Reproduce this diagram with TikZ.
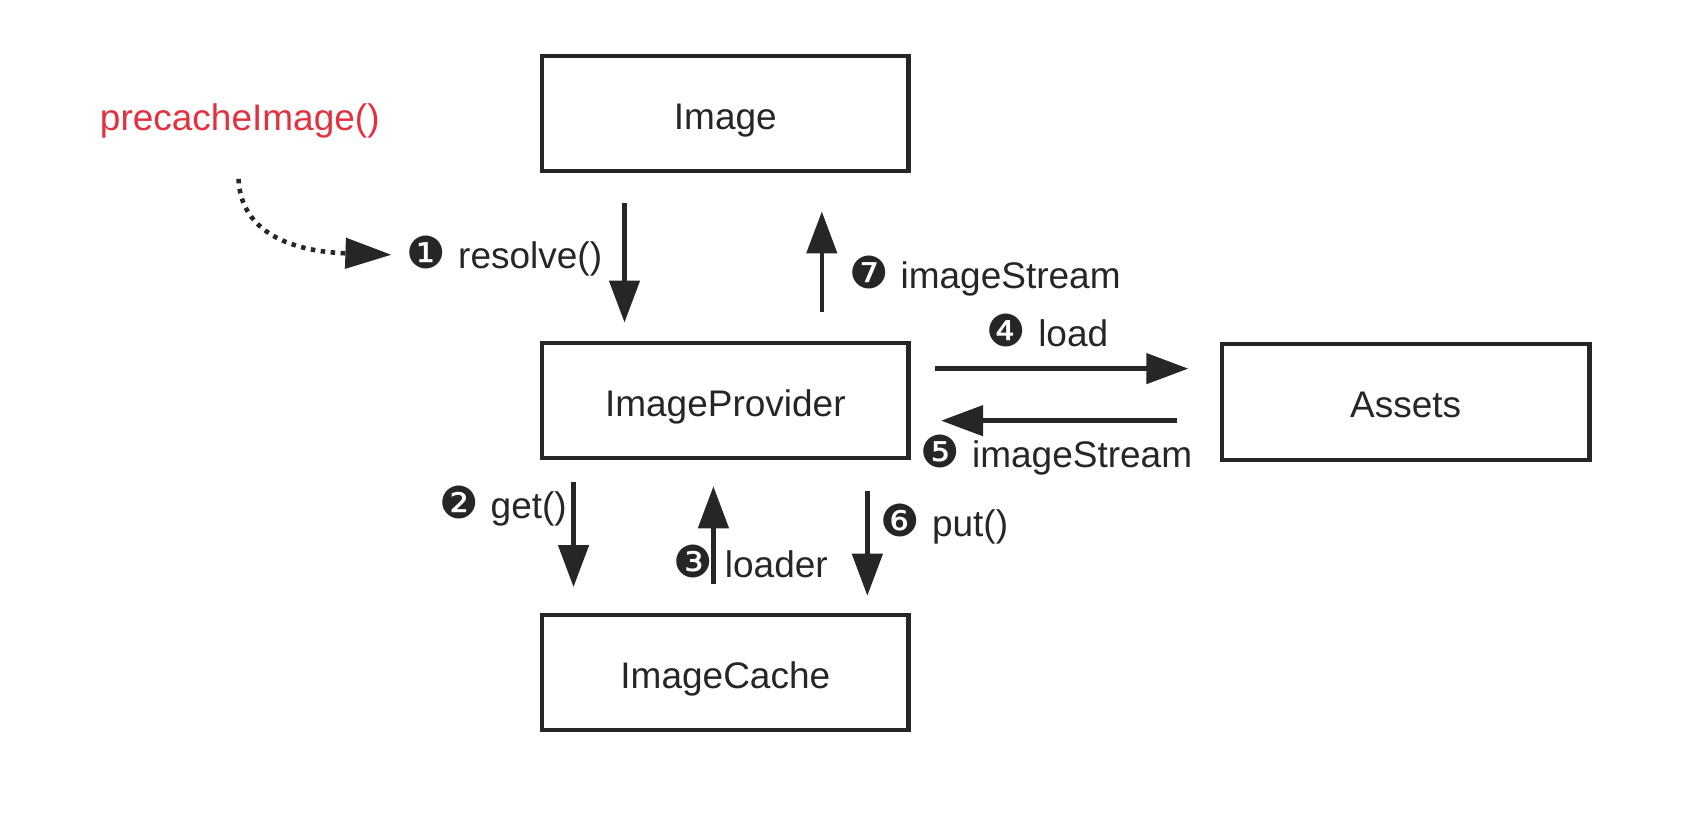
\documentclass[tikz,border=0pt]{standalone}
\usepackage{fontspec}
\setmainfont{Liberation Sans}
\newfontfamily\dingfont{DejaVu Sans}
\usetikzlibrary{arrows.meta,calc}
\definecolor{lineclr}{HTML}{262626}
\definecolor{redclr}{HTML}{E3313F}
\tikzset{
  box/.style={draw=lineclr, line width=4.3pt, minimum width=366.5pt, minimum height=115pt, inner sep=0pt, text height=31pt, text depth=0pt, font=\fontsize{37}{42}\selectfont, text=lineclr},
  arr/.style={draw=lineclr, line width=4.6pt, -{Triangle[length=42pt,width=30pt]}},
  lbl/.style={font=\fontsize{37}{42}\selectfont, text=lineclr, inner sep=0pt, anchor=west},
}
\newcommand{\cn}[1]{{\fontsize{44}{44}\dingfont #1}\hspace{12pt}}
\begin{document}
\begin{tikzpicture}[x=1.0842pt,y=-1.0842pt]
\useasboundingbox (0,0) rectangle (1568,758.2);
\node[box] (img) at (669,105) {Image};
\node[box] (prov) at (669,369.5) {ImageProvider};
\node[box] (cache) at (669,620.5) {ImageCache};
\node[box, minimum width=367.5pt, minimum height=116pt] (assets) at (1296.5,370.5) {Assets};

\node[font=\fontsize{37}{42}\selectfont, text=redclr, anchor=west, inner sep=0pt] (pre) at (92,112) {precacheImage()};

% 1 resolve
\draw[arr] ($(img.south)+(-93,27)$) -- ($(prov.north)+(-93,-17)$);
% 7 imageStream up
\draw[arr] ($(prov.north)+(89,-27)$) -- ($(img.south)+(89,35)$);
% 4 load
\draw[arr] ($(prov.east)+(22,-29.5)$) -- ($(assets.west)+(-29,-30.5)$);
% 5 imageStream left
\draw[arr] ($(assets.west)+(-39,17.5)$) -- ($(prov.east)+(28,18.5)$);
% 2 get
\draw[arr] ($(prov.south)+(-140,20)$) -- ($(cache.north)+(-140,-24)$);
% 3 loader
\draw[arr] ($(cache.north)+(-11,-27)$) -- ($(prov.south)+(-11,24)$);
% 6 put
\draw[arr] ($(prov.south)+(131,28)$) -- ($(cache.north)+(131,-16)$);

% labels
\node[lbl] (l1) at (375,236) {\cn{❶}resolve()};
\node[lbl] (l7) at (783,255) {\cn{❼}imageStream};
\node[lbl] (l4) at (910,305) {\cn{❹}load};
\node[lbl] (l5) at (849,420) {\cn{❺}imageStream};
\node[lbl] (l2) at (405,467) {\cn{❷}get()};
\node[lbl] (l3) at (621,518) {\cn{❸}loader};
\node[lbl] (l6) at (812,483) {\cn{❻}put()};

% dotted curve
\coordinate (ds) at (220,165);
\draw[draw=lineclr, line width=4.6pt, dash pattern=on 4.5pt off 5.5pt, -{Triangle[length=46pt,width=30pt]}]
  (ds) .. controls (222,215) and (270,232) .. ($(l1.west)+(-14,-1)$);
\end{tikzpicture}
\end{document}
